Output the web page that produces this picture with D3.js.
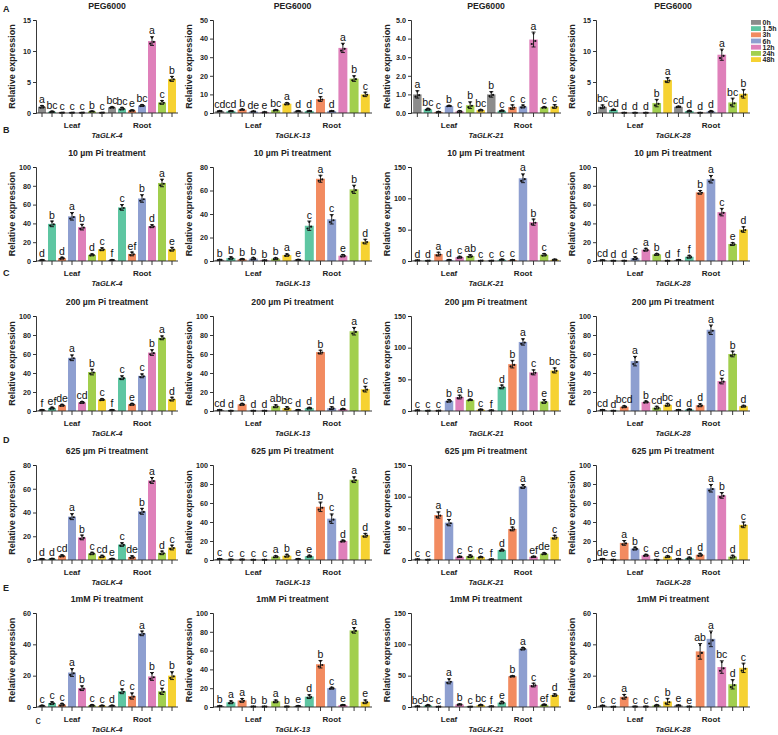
<!DOCTYPE html>
<html>
<head>
<meta charset="utf-8">
<script src="https://cdn.jsdelivr.net/npm/d3@7"></script>
<style>
  body { margin: 0; background: #fff; }
  svg { font-family: "Liberation Sans", Arial, sans-serif; }
</style>
</head>
<body>
<div id="chart"></div>
<script>
// ---- data ----
const times = ["0h", "1.5h", "3h", "6h", "12h", "24h", "48h"];
const tissues = ["Leaf", "Root"];
const genes = ["TaGLK-4", "TaGLK-13", "TaGLK-21", "TaGLK-28"];
const rowLetters = ["A", "B", "C", "D", "E"];
const treatments = ["PEG6000", "10 µm Pi treatment", "200 µm Pi treatment", "625 µm Pi treatment", "1mM Pi treatment"];

// y-axis max and tick step per panel (row x gene)
const yMax = [[15, 50, 5, 15], [100, 80, 150, 100], [100, 100, 150, 100], [80, 100, 150, 100], [60, 100, 150, 60]];
const yStep = [[5, 10, 1, 5], [20, 20, 50, 20], [20, 20, 50, 20], [20, 20, 50, 20], [20, 20, 50, 20]];

// bar order: Leaf 0h..48h, then Root 0h..48h
const pegValues = [
  [1.0, 0.2, 0.05, 0.05, 0.05, 0.25, 0.05, 0.9, 0.7, 0.4, 1.2, 11.6, 1.7, 5.5],
  [1.0, 1.0, 1.8, 0.8, 0.4, 1.5, 5.0, 1.0, 1.0, 7.5, 1.0, 35, 18.5, 10],
  [1.0, 0.2, 0.05, 0.38, 0.08, 0.42, 0.15, 1.0, 0.12, 0.32, 0.35, 3.95, 0.3, 0.35],
  [1.0, 0.5, 0.05, 0.05, 0.05, 1.6, 5.3, 1.0, 0.3, 0.05, 0.25, 9.4, 1.7, 3.1]
];
const pegErrors = [
  [0.2, 0.1, 0.02, 0.02, 0.02, 0.05, 0.02, 0.1, 0.2, 0.1, 0.15, 0.7, 0.3, 0.4],
  [0.2, 0.2, 0.3, 0.2, 0.2, 0.3, 0.6, 0.2, 0.2, 1.3, 0.2, 2.5, 1.5, 1.2],
  [0.2, 0.05, 0.03, 0.03, 0.05, 0.18, 0.04, 0.15, 0.03, 0.12, 0.08, 0.4, 0.03, 0.1],
  [0.3, 0.1, 0.03, 0.03, 0.03, 0.6, 0.4, 0.1, 0.1, 0.03, 0.1, 0.9, 0.7, 0.7]
];
const pegLetters = [
  ["a", "bc", "c", "c", "c", "b", "c", "bc", "bc", "e", "bc", "a", "c", "b"],
  ["cd", "cd", "b", "de", "e", "bc", "a", "d", "d", "c", "d", "a", "b", "c"],
  ["a", "bc", "c", "b", "c", "b", "bc", "b", "c", "c", "c", "a", "c", "c"],
  ["bc", "cd", "d", "d", "d", "b", "a", "cd", "d", "d", "d", "a", "bc", "b"]
];

const pi10Values = [
  [1, 39.5, 3, 47.5, 36, 6.5, 12.5, 1, 57, 7.5, 66.5, 37, 83, 12.5],
  [1, 2.5, 1.5, 2, 0.5, 2, 5, 1, 30, 70, 35.5, 4.5, 61, 16.5],
  [1, 0.5, 11, 1.5, 6, 8, 0.5, 0.5, 2, 1.5, 132, 62, 10, 2],
  [0.8, 0.3, 0.3, 3, 12, 7, 0.3, 1, 4.5, 73, 87, 52, 18, 33.5]
];
const pi10Errors = [
  [0.3, 3, 1, 4, 3, 1, 1.5, 0.3, 3, 2, 4, 1.5, 4, 2],
  [0.3, 1, 0.5, 1, 0.2, 0.8, 1, 0.3, 4, 3, 4, 1, 3.5, 2],
  [0.3, 0.2, 3, 0.5, 1.5, 2, 0.2, 0.2, 1, 0.5, 7, 5, 2, 1],
  [0.3, 0.1, 0.1, 1.5, 1.5, 1, 0.1, 0.3, 1.5, 2, 4, 4, 1.5, 3]
];
const pi10Letters = [
  ["d", "b", "d", "a", "b", "d", "c", "f", "c", "ef", "b", "d", "a", "e"],
  ["b", "b", "b", "b", "b", "b", "a", "e", "c", "a", "c", "e", "b", "d"],
  ["d", "d", "a", "d", "c", "ab", "c", "c", "c", "c", "a", "b", "c", ""],
  ["cd", "d", "d", "c", "a", "b", "d", "f", "f", "b", "a", "c", "e", "d"]
];

const pi200Values = [
  [1, 3, 6, 56, 9, 41, 12, 1, 35, 7, 37, 61.5, 77, 12.5],
  [1, 0.3, 7, 0.3, 0.3, 5, 3, 1, 3, 62, 3, 2, 84, 23],
  [1, 0.5, 0.5, 16, 22, 17.5, 2, 1, 38, 74, 109, 61, 15, 64],
  [1, 0.3, 4.5, 52.5, 9.5, 3.5, 6.5, 1, 1.5, 6, 85.5, 31.5, 60, 5]
];
const pi200Errors = [
  [0.3, 1, 1, 3, 1, 3, 1, 0.3, 2, 1, 2, 3, 2, 2],
  [0.3, 0.1, 1, 0.1, 0.1, 1.5, 1.5, 0.3, 0.8, 2, 1.5, 0.5, 4, 3],
  [0.3, 0.2, 0.2, 2, 3, 1, 1, 0.3, 3, 6, 5, 4, 3, 4],
  [0.3, 0.1, 1, 5, 1, 1.5, 1.5, 0.3, 0.5, 1.5, 5, 3, 3, 1]
];
const pi200Letters = [
  ["f", "ef", "de", "a", "cd", "b", "c", "f", "c", "e", "c", "b", "a", "d"],
  ["cd", "d", "a", "d", "d", "ab", "bc", "d", "d", "b", "d", "d", "a", "c"],
  ["c", "c", "c", "b", "a", "b", "c", "f", "d", "b", "a", "c", "e", "bc"],
  ["cd", "d", "bcd", "a", "b", "cd", "bc", "d", "d", "d", "a", "c", "b", "d"]
];

const pi625Values = [
  [0.8, 1, 3.5, 36.5, 19, 5.5, 3, 1, 13, 2.5, 41, 67, 6, 10.5],
  [1, 0.5, 0.5, 0.3, 0.3, 3.5, 4.5, 1, 4, 56, 43.5, 20, 84.5, 26],
  [1, 0.5, 71, 59, 5, 6, 4.5, 1, 15.5, 49, 116, 5, 10, 36],
  [1, 0.3, 18, 12, 5, 0.3, 3.5, 1, 2, 5.5, 75.5, 68, 3.5, 37]
];
const pi625Errors = [
  [0.2, 0.3, 0.8, 2.5, 2, 1, 1, 0.3, 1.5, 1, 2.5, 2.5, 1.5, 2],
  [0.3, 0.2, 0.2, 0.1, 0.1, 1, 1.5, 0.3, 1, 5, 5, 1, 3, 2],
  [0.3, 0.2, 5, 5, 1, 2, 1, 0.3, 1.5, 3, 3, 1, 1.5, 3],
  [0.3, 0.1, 2.5, 1.5, 1, 0.1, 1, 0.3, 1, 1.5, 4, 3, 1.5, 3]
];
const pi625Letters = [
  ["d", "d", "cd", "a", "b", "c", "cd", "e", "c", "de", "b", "a", "d", "c"],
  ["c", "c", "c", "c", "c", "a", "b", "e", "e", "b", "c", "d", "a", "d"],
  ["c", "c", "a", "b", "c", "c", "c", "f", "d", "b", "a", "ef", "de", "c"],
  ["de", "e", "a", "b", "c", "e", "cd", "d", "d", "d", "a", "b", "d", "c"]
];

const pi1mValues = [
  [0.8, 2.5, 1.5, 22, 12, 1, 0.8, 0.8, 10, 7, 47, 19.5, 10, 20],
  [1, 5, 7, 0.5, 0.5, 6, 0.5, 1, 11, 45.5, 20, 2, 81.5, 5.5],
  [1, 2.5, 0.5, 41, 4, 0.5, 3, 1, 7, 49, 93, 35, 3.5, 19],
  [0.8, 0.2, 6.5, 0.3, 0.3, 1, 3.5, 1, 0.3, 35.5, 43.5, 25.5, 14.5, 25]
];
const pi1mErrors = [
  [0.3, 0.8, 0.8, 2.5, 1.5, 0.5, 0.3, 0.3, 1.5, 2, 1.5, 2.5, 2, 2.5],
  [0.3, 1.5, 2, 0.2, 0.2, 1.5, 0.2, 0.3, 2, 4, 1, 0.5, 3, 2],
  [0.3, 1, 0.2, 4, 1, 0.2, 1, 0.3, 2, 1, 2, 3, 1, 2],
  [0.3, 0.1, 1.5, 0.1, 0.1, 0.5, 2, 0.3, 0.1, 5, 5, 4, 3, 3]
];
const pi1mLetters = [
  ["c", "c", "c", "a", "b", "c", "c", "d", "c", "c", "a", "b", "c", "b"],
  ["b", "a", "a", "b", "b", "a", "b", "e", "d", "b", "c", "e", "a", "e"],
  ["bc", "bc", "c", "a", "b", "c", "bc", "f", "e", "b", "a", "c", "ef", "d"],
  ["c", "c", "a", "c", "c", "c", "b", "e", "e", "ab", "a", "bc", "d", "c"]
];

const allValues = [pegValues, pi10Values, pi200Values, pi625Values, pi1mValues];
const allErrors = [pegErrors, pi10Errors, pi200Errors, pi625Errors, pi1mErrors];
const allLetters = [pegLetters, pi10Letters, pi200Letters, pi625Letters, pi1mLetters];

const colors = ["#8c8c8c", "#5ec6a2", "#f28b60", "#8e9fd0", "#df80ba", "#a2cf4e", "#f6d232"];

// ---- layout ----
const W = 778, H = 735;
const colX0 = [36, 213, 411, 596];
const colX1 = [178, 372, 561, 750];
const rowTop = [20, 167, 316, 465, 613];
const rowZero = [113, 261, 411, 560, 707];

const svg = d3.select("#chart").append("svg")
    .attr("width", W)
    .attr("height", H);

const bars = d3.range(14).map(i => ({ idx: i, time: i % 7, tissue: Math.floor(i / 7) }));

function drawPanel(r, c) {
    const x0 = colX0[c], x1 = colX1[c];
    const top = rowTop[r], zero = rowZero[r];
    const values = allValues[r][c], errs = allErrors[r][c], letters = allLetters[r][c];

    const x = d3.scaleBand()
        .domain(bars.map(d => d.idx))
        .range([x0, x1])
        .paddingInner(0.2)
        .paddingOuter(0.2);

    const y = d3.scaleLinear()
        .domain([0, yMax[r][c]])
        .range([zero, top]);

    const g = svg.append("g");

    // bars
    g.selectAll("rect.bar")
        .data(bars)
        .enter()
        .append("rect")
        .attr("class", "bar")
        .attr("x", d => x(d.idx))
        .attr("y", d => y(values[d.idx]))
        .attr("width", x.bandwidth())
        .attr("height", d => zero - y(values[d.idx]))
        .attr("fill", d => colors[d.time]);

    // error bars
    const cx = d => x(d.idx) + x.bandwidth() / 2;
    const lo = d => y(Math.max(0, values[d.idx] - errs[d.idx]));
    const hi = d => y(values[d.idx] + errs[d.idx]);
    const eb = g.selectAll("g.err").data(bars).enter().append("g")
        .attr("stroke", "#111").attr("stroke-width", 0.9);
    eb.append("line").attr("x1", cx).attr("x2", cx).attr("y1", lo).attr("y2", hi);
    eb.append("line").attr("x1", d => cx(d) - 2).attr("x2", d => cx(d) + 2).attr("y1", hi).attr("y2", hi);
    eb.append("line").attr("x1", d => cx(d) - 2).attr("x2", d => cx(d) + 2).attr("y1", lo).attr("y2", lo);

    // replicate dots around the mean
    const dotOffsets = [[-1.8, -0.6], [0, 0.8], [1.8, -0.2]];
    bars.forEach(d => {
        dotOffsets.forEach(o => {
            g.append("circle")
                .attr("cx", cx(d) + o[0])
                .attr("cy", y(Math.max(0, values[d.idx] + o[1] * errs[d.idx])))
                .attr("r", 1.1)
                .attr("fill", "#111");
        });
    });

    // significance letters
    g.selectAll("text.sig")
        .data(bars)
        .enter()
        .append("text")
        .attr("class", "sig")
        .attr("x", cx)
        .attr("y", d => hi(d) - 2.5)
        .attr("text-anchor", "middle")
        .attr("font-size", 10.5)
        .attr("fill", "#111")
        .text(d => letters[d.idx]);

    // y axis
    const yAxis = g.append("g")
        .attr("transform", `translate(${x0},0)`)
        .call(d3.axisLeft(y).tickValues(d3.range(0, yMax[r][c] + 1e-9, yStep[r][c])).tickSize(3).tickPadding(2));
    yAxis.selectAll("text").attr("font-size", 7.2).attr("font-weight", "bold").attr("fill", "#222");
    yAxis.selectAll("line, path").attr("stroke", "#222").attr("stroke-width", 0.9);

    // x axis
    const xAxis = g.append("g")
        .attr("transform", `translate(0,${zero})`)
        .call(d3.axisBottom(x).tickSize(4).tickFormat(""));
    xAxis.select("path").attr("d", `M${x0},0H${x1}`);
    xAxis.selectAll("line, path").attr("stroke", "#222").attr("stroke-width", 0.9);

    // tissue labels
    tissues.forEach((t, k) => {
        const mid = (x(k * 7 + 3) + x.bandwidth() / 2);
        g.append("text")
            .attr("x", mid).attr("y", zero + 15)
            .attr("text-anchor", "middle")
            .attr("font-size", 8).attr("font-weight", "bold").attr("fill", "#222")
            .text(t);
    });

    // gene name
    g.append("text")
        .attr("x", (x0 + x1) / 2).attr("y", zero + 25)
        .attr("text-anchor", "middle")
        .attr("font-size", 7.5).attr("font-weight", "bold").attr("font-style", "italic").attr("fill", "#222")
        .text(genes[c]);

    // panel title
    g.append("text")
        .attr("x", (x0 + x1) / 2).attr("y", top - 11)
        .attr("text-anchor", "middle")
        .attr("font-size", 8.7).attr("font-weight", "bold").attr("fill", "#222")
        .text(treatments[r]);

    // y axis title
    g.append("text")
        .attr("transform", `translate(${x0 - 21},${(top + zero) / 2}) rotate(-90)`)
        .attr("text-anchor", "middle")
        .attr("font-size", 9).attr("font-weight", "bold").attr("fill", "#222")
        .text("Relative expression");
}

for (let r = 0; r < 5; r++) {
    for (let c = 0; c < 4; c++) drawPanel(r, c);
}

// row letters
const rowLetterY = [12, 133, 276, 443, 591];
rowLetters.forEach((l, i) => {
    svg.append("text")
        .attr("x", 3).attr("y", rowLetterY[i])
        .attr("font-size", 9).attr("font-weight", "bold").attr("fill", "#222")
        .text(l);
});

// stray letter under the first E panel
svg.append("text")
    .attr("x", 38).attr("y", 724)
    .attr("text-anchor", "middle")
    .attr("font-size", 10.5).attr("fill", "#111")
    .text("c");

// legend
const legend = svg.append("g").attr("transform", "translate(751,20)");
times.forEach((t, i) => {
    legend.append("rect")
        .attr("x", 0).attr("y", i * 6.2)
        .attr("width", 10).attr("height", 4.8)
        .attr("fill", colors[i]);
    legend.append("text")
        .attr("x", 11.5).attr("y", i * 6.2 + 5)
        .attr("font-size", 7).attr("font-weight", "bold").attr("fill", "#222")
        .text(t);
});
</script>
</body>
</html>
